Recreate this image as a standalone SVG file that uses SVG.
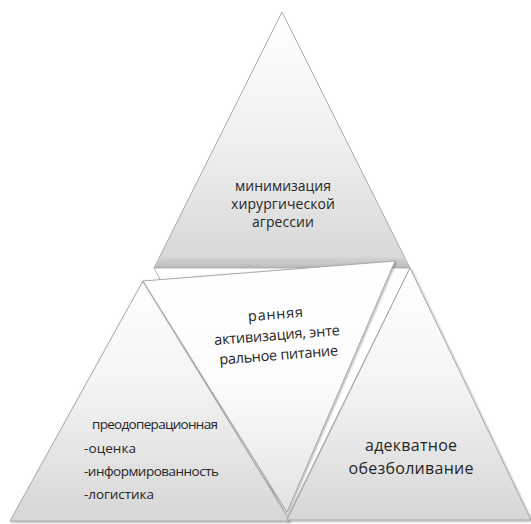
<svg xmlns="http://www.w3.org/2000/svg" width="531" height="524" viewBox="0 0 531 524">
<style>
.t{font-family:"Open Sans","Noto Sans","DejaVu Sans",sans-serif;fill:#262626}
.e{stroke:#a8a8a8;stroke-width:1;stroke-linejoin:round}
</style>
<defs>
<linearGradient id="gTop" x1="0" y1="12" x2="0" y2="268" gradientUnits="userSpaceOnUse">
<stop offset="0" stop-color="#ffffff"/>
<stop offset="0.5" stop-color="#f0f0f0"/>
<stop offset="1" stop-color="#d6d6d6"/>
</linearGradient>
<linearGradient id="gBand" x1="0" y1="257" x2="0" y2="269" gradientUnits="userSpaceOnUse">
<stop offset="0" stop-color="#d4d4d4"/>
<stop offset="0.7" stop-color="#c2c2c2"/>
<stop offset="1" stop-color="#aaaaaa"/>
</linearGradient>
<linearGradient id="gBot" x1="0" y1="270" x2="0" y2="521" gradientUnits="userSpaceOnUse">
<stop offset="0" stop-color="#ffffff"/>
<stop offset="0.45" stop-color="#f4f4f4"/>
<stop offset="1" stop-color="#d6d6d6"/>
</linearGradient>
<linearGradient id="gMid" x1="0" y1="265" x2="0" y2="512" gradientUnits="userSpaceOnUse">
<stop offset="0" stop-color="#ffffff"/>
<stop offset="0.5" stop-color="#fbfbfb"/>
<stop offset="1" stop-color="#e2e2e2"/>
</linearGradient>
<filter id="sh" x="-10%" y="-10%" width="120%" height="120%">
<feDropShadow dx="0.8" dy="1" stdDeviation="1" flood-color="#000" flood-opacity="0.35"/>
</filter>
</defs>
<rect width="531" height="524" fill="#ffffff"/>

<g id="node-top">
<polygon class="e" points="282,12 154,268 410,268" fill="url(#gTop)"/>
<polygon points="159,258 405,258 410,268 154,268" fill="url(#gBand)"/>
<text class="t" font-size="14" text-anchor="middle"><tspan x="283" y="191" textLength="96">минимизация</tspan><tspan x="283" y="209" textLength="104">хирургической</tspan><tspan x="283" y="227" textLength="62">агрессии</tspan></text>
</g>

<g id="connectors">
<polygon points="154,268 410,268 287,518" fill="#ffffff" stroke="#b4b4b4" stroke-width="1"/>
</g>

<g id="node-left">
<polygon class="e" points="143,281 10,521 290,521" fill="url(#gBot)" filter="url(#sh)"/>
<text class="t" font-size="13.5"><tspan x="92" y="429" textLength="126">преодоперационная</tspan><tspan x="84" y="453" textLength="52">-оценка</tspan><tspan x="84" y="476" textLength="135">-информированность</tspan><tspan x="84" y="499" textLength="70">-логистика</tspan></text>
</g>

<g id="node-right">
<polygon class="e" points="410,268 287,520 531,520" fill="url(#gBot)" filter="url(#sh)"/>
<text class="t" font-size="16" text-anchor="middle"><tspan x="411" y="451" textLength="92">адекватное</tspan><tspan x="411" y="474" textLength="125">обезболивание</tspan></text>
</g>

<g id="node-middle">
<polygon class="e" points="143,281 395,261 287,512" fill="url(#gMid)" filter="url(#sh)"/>
<g transform="rotate(-4.5 277 335)">
<text class="t" font-size="14.5" text-anchor="middle"><tspan x="277" y="319" textLength="55">ранняя</tspan><tspan x="277" y="340" textLength="126">активизация, энте</tspan><tspan x="277" y="360" textLength="119">ральное питание</tspan></text>
</g>
</g>
</svg>
